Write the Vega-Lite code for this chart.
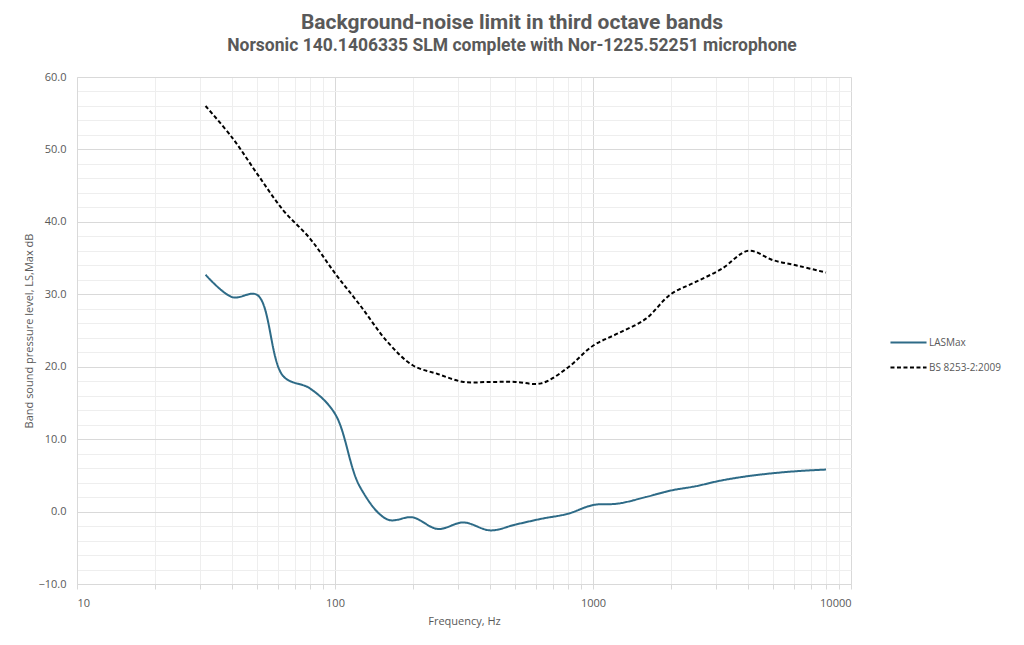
{
  "$schema": "https://vega.github.io/schema/vega-lite/v6.json",
  "width": 774,
  "height": 507,
  "autosize": "none",
  "padding": {"left": 77, "top": 77, "right": 173, "bottom": 61},
  "background": "white",
  "title": {
    "text": "Background-noise  limit in third octave bands",
    "subtitle": "Norsonic 140.1406335 SLM complete with Nor-1225.52251 microphone",
    "anchor": "middle",
    "dx": 48,
    "offset": 17,
    "font": "Roboto",
    "fontSize": 21,
    "fontWeight": "bold",
    "color": "#595959",
    "subtitleFont": "Roboto",
    "subtitleFontSize": 17.5,
    "subtitleFontWeight": "bold",
    "subtitleColor": "#595959",
    "subtitlePadding": 4
  },
  "config": {
    "view": {"stroke": null},
    "axis": {
      "labelFont": "Open Sans",
      "labelFontSize": 11,
      "labelColor": "#595959",
      "titleFont": "Open Sans",
      "titleFontSize": 11,
      "titleFontWeight": "normal",
      "titleColor": "#595959"
    },
    "legend": {
      "labelFont": "Open Sans",
      "labelFontSize": 10,
      "labelColor": "#595959",
      "symbolType": "stroke",
      "symbolSize": 1300,
      "symbolStrokeWidth": 2,
      "rowPadding": -1,
      "labelOffset": 1
    }
  },
  "data": {
    "values": [
      {"f": 31.5, "level": 32.7, "series": "LASMax"},
      {"f": 40, "level": 29.6, "series": "LASMax"},
      {"f": 50, "level": 29.9, "series": "LASMax"},
      {"f": 63, "level": 18.7, "series": "LASMax"},
      {"f": 80, "level": 17.0, "series": "LASMax"},
      {"f": 100, "level": 13.5, "series": "LASMax"},
      {"f": 125, "level": 3.4, "series": "LASMax"},
      {"f": 160, "level": -1.1, "series": "LASMax"},
      {"f": 200, "level": -0.8, "series": "LASMax"},
      {"f": 250, "level": -2.4, "series": "LASMax"},
      {"f": 315, "level": -1.5, "series": "LASMax"},
      {"f": 400, "level": -2.6, "series": "LASMax"},
      {"f": 500, "level": -1.8, "series": "LASMax"},
      {"f": 630, "level": -1.0, "series": "LASMax"},
      {"f": 800, "level": -0.3, "series": "LASMax"},
      {"f": 1000, "level": 0.9, "series": "LASMax"},
      {"f": 1250, "level": 1.1, "series": "LASMax"},
      {"f": 1600, "level": 2.0, "series": "LASMax"},
      {"f": 2000, "level": 2.9, "series": "LASMax"},
      {"f": 2500, "level": 3.5, "series": "LASMax"},
      {"f": 3150, "level": 4.3, "series": "LASMax"},
      {"f": 4000, "level": 4.9, "series": "LASMax"},
      {"f": 5000, "level": 5.3, "series": "LASMax"},
      {"f": 6300, "level": 5.6, "series": "LASMax"},
      {"f": 8000, "level": 5.8, "series": "LASMax"},
      {"f": 31.5, "level": 56.0, "series": "BS 8253-2:2009"},
      {"f": 40, "level": 51.6, "series": "BS 8253-2:2009"},
      {"f": 50, "level": 46.6, "series": "BS 8253-2:2009"},
      {"f": 63, "level": 41.6, "series": "BS 8253-2:2009"},
      {"f": 80, "level": 37.7, "series": "BS 8253-2:2009"},
      {"f": 100, "level": 32.9, "series": "BS 8253-2:2009"},
      {"f": 125, "level": 28.5, "series": "BS 8253-2:2009"},
      {"f": 160, "level": 23.4, "series": "BS 8253-2:2009"},
      {"f": 200, "level": 20.2, "series": "BS 8253-2:2009"},
      {"f": 250, "level": 19.0, "series": "BS 8253-2:2009"},
      {"f": 315, "level": 17.9, "series": "BS 8253-2:2009"},
      {"f": 400, "level": 17.9, "series": "BS 8253-2:2009"},
      {"f": 500, "level": 17.9, "series": "BS 8253-2:2009"},
      {"f": 630, "level": 17.7, "series": "BS 8253-2:2009"},
      {"f": 800, "level": 19.9, "series": "BS 8253-2:2009"},
      {"f": 1000, "level": 22.9, "series": "BS 8253-2:2009"},
      {"f": 1250, "level": 24.6, "series": "BS 8253-2:2009"},
      {"f": 1600, "level": 26.6, "series": "BS 8253-2:2009"},
      {"f": 2000, "level": 30.0, "series": "BS 8253-2:2009"},
      {"f": 2500, "level": 31.7, "series": "BS 8253-2:2009"},
      {"f": 3150, "level": 33.5, "series": "BS 8253-2:2009"},
      {"f": 4000, "level": 36.0, "series": "BS 8253-2:2009"},
      {"f": 5000, "level": 34.7, "series": "BS 8253-2:2009"},
      {"f": 6300, "level": 33.9, "series": "BS 8253-2:2009"},
      {"f": 8000, "level": 33.0, "series": "BS 8253-2:2009"}
    ]
  },
  "layer": [
    {
      "mark": {"type": "line", "opacity": 0},
      "encoding": {
        "x": {
          "field": "f",
          "type": "quantitative",
          "scale": {"type": "log", "domain": [10, 10000], "nice": false},
          "axis": {
            "orient": "bottom",
            "values": [20, 30, 40, 50, 60, 70, 80, 90, 200, 300, 400, 500, 600, 700, 800, 900, 2000, 3000, 4000, 5000, 6000, 7000, 8000, 9000],
            "grid": true,
            "gridColor": "#eeeeee",
            "labels": false,
            "ticks": true,
            "tickColor": "#d9d9d9",
            "tickSize": 5,
            "domain": false,
            "title": null
          }
        },
        "y": {
          "field": "level",
          "type": "quantitative",
          "scale": {"domain": [-10, 60], "nice": false},
          "axis": {
            "orient": "left",
            "values": [-8, -6, -4, -2, 2, 4, 6, 8, 12, 14, 16, 18, 22, 24, 26, 28, 32, 34, 36, 38, 42, 44, 46, 48, 52, 54, 56, 58],
            "grid": true,
            "gridColor": "#eeeeee",
            "labels": false,
            "ticks": false,
            "domain": false,
            "title": null
          }
        },
        "detail": {"field": "series"}
      }
    },
    {
      "mark": {"type": "line", "interpolate": "catmull-rom", "strokeWidth": 2},
      "encoding": {
        "x": {
          "field": "f",
          "type": "quantitative",
          "scale": {"type": "log", "domain": [10, 10000], "nice": false},
          "axis": {
            "orient": "bottom",
            "values": [10, 100, 1000, 10000],
            "format": "d",
            "grid": true,
            "gridColor": "#d9d9d9",
            "domainColor": "#d9d9d9",
            "tickColor": "#d9d9d9",
            "tickSize": 5,
            "labelPadding": 8,
            "title": "Frequency, Hz",
            "titlePadding": 7
          }
        },
        "y": {
          "field": "level",
          "type": "quantitative",
          "scale": {"domain": [-10, 60], "nice": false},
          "axis": {
            "orient": "left",
            "values": [-10, 0, 10, 20, 30, 40, 50, 60],
            "format": ".1f",
            "grid": true,
            "gridColor": "#d9d9d9",
            "domainColor": "#d9d9d9",
            "ticks": false,
            "labelPadding": 11,
            "title": "Band sound pressure level, LS,Max dB",
            "titlePadding": 3
          }
        },
        "color": {
          "field": "series",
          "type": "nominal",
          "scale": {"domain": ["LASMax", "BS 8253-2:2009"], "range": ["#2e6b87", "#000000"]},
          "legend": {"title": null, "orient": "none", "legendX": 812, "legendY": 246}
        },
        "strokeDash": {
          "field": "series",
          "type": "nominal",
          "scale": {"domain": ["LASMax", "BS 8253-2:2009"], "range": [[1, 0], [4, 2.5]]},
          "legend": {"title": null, "orient": "none", "legendX": 812, "legendY": 246}
        }
      }
    }
  ],
  "resolve": {"axis": {"x": "independent", "y": "independent"}}
}
